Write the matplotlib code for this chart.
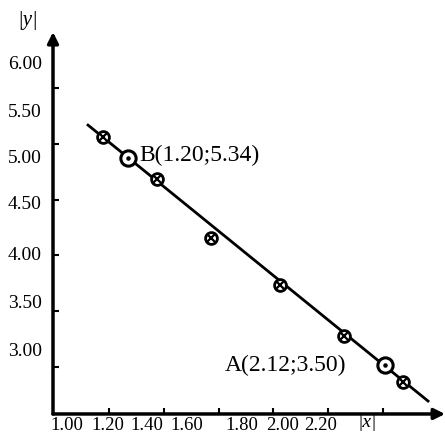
import numpy as np
import matplotlib.pyplot as plt

plt.rcParams['font.family'] = ['Liberation Serif', 'DejaVu Serif']

# points mesures (cercle barre)
x_mes = [1.177, 1.375, 1.572, 1.825, 2.059, 2.274]
y_mes = [5.061, 4.685, 4.156, 3.735, 3.278, 2.866]

# points A et B choisis sur la droite
x_ab = [1.269, 2.208]
y_ab = [4.873, 3.018]
txt_ab = ['B(1.20;5.34)', 'A(2.12;3.50)']

# extremites de la droite tracee
x_droite = [1.1225, 2.3656]
y_droite = [5.168, 2.695]

# graduations
x_grad = [1.2, 1.4, 1.6, 1.8, 2.0, 2.2]
y_grad = [3.0, 3.5, 4.0, 4.5, 5.0, 5.5]
x_labels = ['1.00', '1.20', '1.40', '1.60', '1.80', '2.00', '2.20']
y_labels = ['6.00', '5.50', '5.00', '4.50', '4.00', '3.50', '3.00']
# position des etiquettes (decalees des graduations sur la figure)
x_lab_pos = [1.046, 1.196, 1.338, 1.485, 1.686, 1.832, 1.971]
y_lab_pos = [5.729, 5.303, 4.891, 4.470, 4.013, 3.591, 3.161]

fig = plt.figure(figsize=(4.45, 4.36), dpi=100)
ax = fig.add_axes([0.1191, 0.0505, 0.881, 0.876])
ax.set_xlim(0.9945, 2.4278)
ax.set_ylim(2.579, 6.002)

# axes avec fleches
for s in ax.spines.values():
    s.set_visible(False)
ax.annotate('', xy=(1, 0), xytext=(0, 0), xycoords='axes fraction',
            arrowprops=dict(arrowstyle='-|>', lw=2.5, color='k',
                            mutation_scale=16, shrinkA=0, shrinkB=0))
ax.annotate('', xy=(0, 1), xytext=(0, 0), xycoords='axes fraction',
            arrowprops=dict(arrowstyle='-|>', lw=2.5, color='k',
                            mutation_scale=16, shrinkA=0, shrinkB=0))

# graduations (mineures) et etiquettes (majeures sans trait)
ax.set_xticks(x_grad, minor=True)
ax.set_yticks(y_grad, minor=True)
ax.set_xticks(x_lab_pos, labels=x_labels)
ax.set_yticks(y_lab_pos, labels=y_labels)
ax.tick_params(which='major', length=0, labelsize=13.5)
ax.tick_params(axis='x', which='major', pad=2.5)
ax.tick_params(axis='y', which='major', pad=8, labelsize=14)
ax.tick_params(which='minor', direction='in', length=4, width=1.5)

ax.text(2.143, 2.579, '|x|', fontsize=14, style='italic', ha='center',
        va='top', transform=ax.transData, clip_on=False)
ax.text(-0.065, 1.005, '|y|', fontsize=15, style='italic', ha='center',
        va='bottom', transform=ax.transAxes, clip_on=False)

# droite
ax.plot(x_droite, y_droite, color='k', lw=2)

# mesures
ax.plot(x_mes, y_mes, 'o', ms=8.5, mfc='white', mec='k', mew=2)
ax.plot(x_mes, y_mes, 'x', ms=5.5, mec='k', mew=1.6)

# A et B
ax.plot(x_ab, y_ab, 'o', ms=11, mfc='white', mec='k', mew=2.2)
ax.plot(x_ab, y_ab, '.', ms=4.5, color='k')
ax.text(1.31, 4.9, txt_ab[0], fontsize=17, va='center', ha='left')
ax.text(2.065, 3.015, txt_ab[1], fontsize=17, va='center', ha='right')

fig.savefig('out.png', dpi=100)
